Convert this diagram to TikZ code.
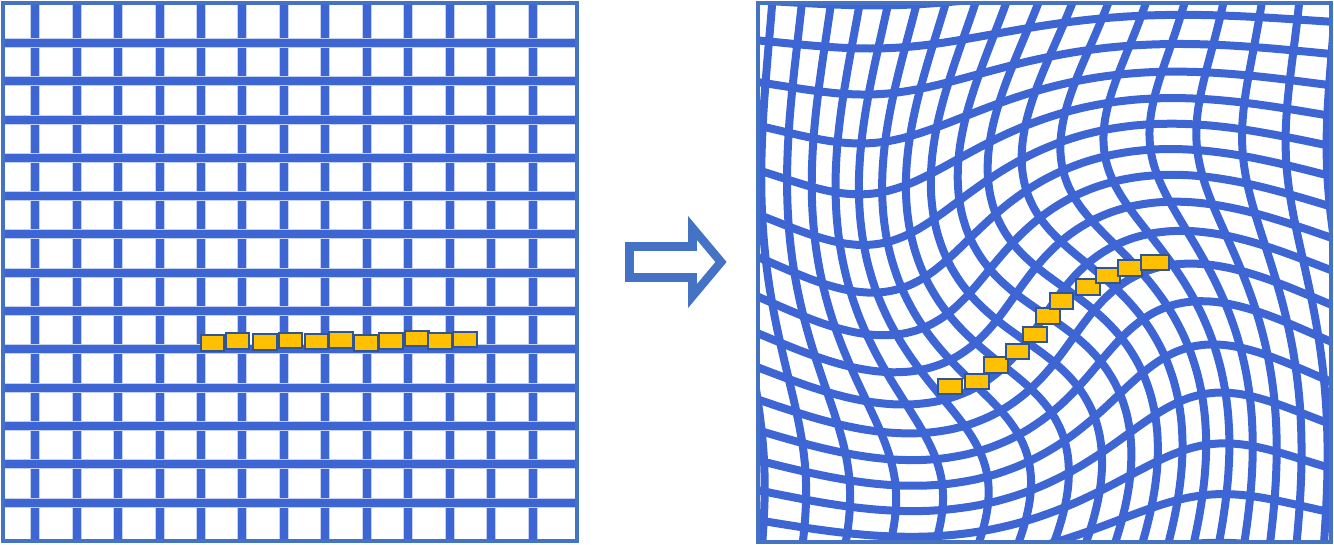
\documentclass[tikz,border=0pt]{standalone}
\usepackage{tikz}
\usetikzlibrary{positioning}

\definecolor{gridblue}{RGB}{61,102,212}
\definecolor{frameblue}{RGB}{68,114,196}
\definecolor{boxorange}{RGB}{255,192,0}
\definecolor{boxedge}{RGB}{47,85,151}

\tikzset{
  gridline/.style={gridblue, line width=4pt},
  softline/.style={gridblue!30, line width=5pt},
  frame/.style={draw=frameblue, line width=2.2pt},
  chainbox/.style={rectangle, draw=boxedge, fill=boxorange, line width=0.9pt,
    minimum width=11.8pt, minimum height=7.8pt, inner sep=0pt},
  blockarrow/.style={draw=frameblue, fill=white, line width=4.3pt, line join=miter}
}

\begin{document}
\begin{tikzpicture}[x=50pt, y=-50pt,
  declare function={
    twist(\a,\b)=56*exp(max(-12,-((\a-10.42)^2+(\b-3.16)^2)/4.8));
    warpx(\a,\b)=10.42+cos(twist(\a,\b))*(\a-10.42)+sin(twist(\a,\b))*(\b-3.16);
    warpy(\a,\b)=3.16-sin(twist(\a,\b))*(\a-10.42)+cos(twist(\a,\b))*(\b-3.16);
  }]
    \useasboundingbox (0,0) rectangle (13.34,5.45);

    % regular grid (before)
    \foreach \gx in {0,...,12} {
      \draw [softline] ({0.35+0.415*\gx},0.03) to ({0.35+0.415*\gx},5.41);
      \draw [gridline] ({0.35+0.415*\gx},0.03) to ({0.35+0.415*\gx},5.41);
    }
    \foreach \gy in {0,...,12} {
      \draw [softline] (0.03,{0.43+0.383*\gy}) to (5.77,{0.43+0.383*\gy});
      \draw [gridline] (0.03,{0.43+0.383*\gy}) to (5.77,{0.43+0.383*\gy});
    }
    \draw [frame] (0.03,0.03) rectangle (5.77,5.41);

    % row of boxes on the regular grid
    \foreach \bx/\by [count=\i] in {2.125/3.43, 2.375/3.41, 2.65/3.42, 2.905/3.405, 3.165/3.415,
        3.41/3.40, 3.66/3.43, 3.91/3.41, 4.17/3.385, 4.40/3.41, 4.65/3.395}
      \node [chainbox] (l\i) at (\bx,\by) {};

    % arrow between the two grids
    \draw [blockarrow] (6.295,2.465) -- (6.925,2.465) -- (6.925,2.28) -- (7.21,2.62)
      -- (6.925,2.96) -- (6.925,2.775) -- (6.295,2.775) -- cycle;

    % warped grid (after)
    \begin{scope}
      \clip (7.58,0.03) rectangle (13.31,5.42);
      \foreach \u in {5.5,5.83,...,15.8}
        \draw [gridline] plot [domain=-1.8:7.2, samples=60, smooth] ({warpx(\u,\x)},{warpy(\u,\x)});
      \foreach \v in {-1.5,-1.14,...,7.4}
        \draw [gridline] plot [domain=5.4:15.6, samples=60, smooth] ({warpx(\x,\v)},{warpy(\x,\v)});
    \end{scope}
    \draw [frame] (7.58,0.03) rectangle (13.31,5.42);

    % row of boxes on the warped grid
    \foreach \bx/\by [count=\i] in {9.50/3.865, 9.77/3.815, 9.96/3.65, 10.175/3.515, 10.35/3.345,
        10.48/3.16, 10.615/3.01, 10.88/2.87, 11.08/2.755, 11.30/2.68}
      \node [chainbox] (r\i) at (\bx,\by) {};
    \node [chainbox, minimum width=14pt] (r11) at (11.55,2.625) {};
\end{tikzpicture}
\end{document}
